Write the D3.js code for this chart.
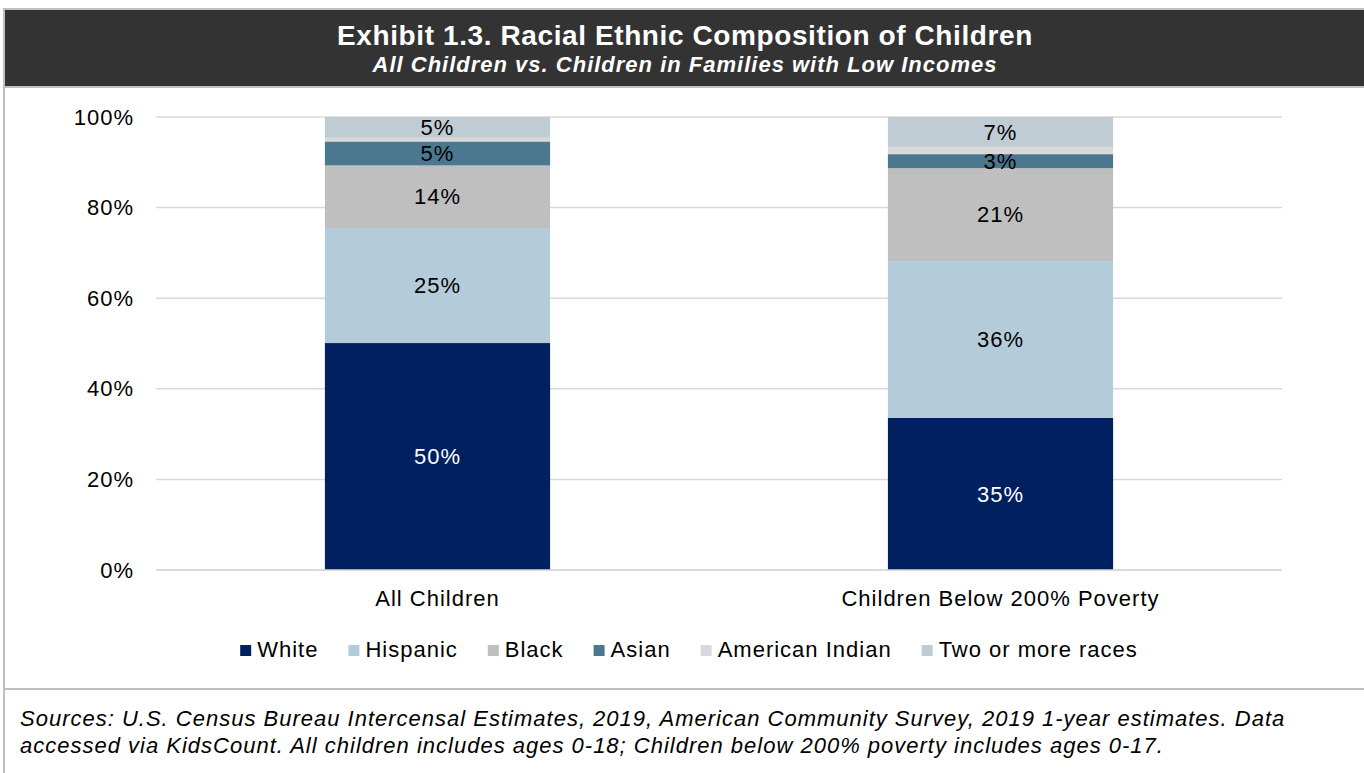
<!DOCTYPE html>
<html>
<head>
<meta charset="utf-8">
<script src="https://cdn.jsdelivr.net/npm/d3@7"></script>
<style>
  html, body { margin: 0; padding: 0; background: #fff; }
  svg { display: block; font-family: "Liberation Sans", Arial, sans-serif; }
  .t { font-size: 22px; letter-spacing: 1px; }
</style>
</head>
<body>
<svg id="chart" width="1364" height="773"></svg>
<script>
// ---- data ----
const categories = ["All Children", "Children Below 200% Poverty"];
const seriesNames = ["White", "Hispanic", "Black", "Asian", "American Indian", "Two or more races"];
const white    = [50.1, 33.6];
const hispanic = [25.4, 34.6];
const black    = [13.8, 20.5];
const asian    = [5.3, 3.1];
const amIndian = [0.8, 1.6];
const twoMore  = [4.6, 6.6];
const labelsAll  = ["50%", "25%", "14%", "5%", "", "5%"];
const labelsLow  = ["35%", "36%", "21%", "3%", "", "7%"];
const yTicks = [0, 20, 40, 60, 80, 100];
const colors = ["#002060", "#B4CCD9", "#BFBFBF", "#4B788F", "#D9D9D9", "#C0CCD4"];

const seriesValues = [white, hispanic, black, asian, amIndian, twoMore];
const segLabels = [labelsAll, labelsLow];

const svg = d3.select("#chart");

// frame
svg.append("rect").attr("x", 4).attr("y", 9).attr("width", 1362).attr("height", 766)
  .attr("fill", "none").attr("stroke", "#BFBFBF").attr("stroke-width", 2);
svg.append("rect").attr("x", 5).attr("y", 10).attr("width", 1359).attr("height", 76).attr("fill", "#333333");
svg.append("line").attr("x1", 4).attr("x2", 1364).attr("y1", 87).attr("y2", 87)
  .attr("stroke", "#BFBFBF").attr("stroke-width", 2);
svg.append("line").attr("x1", 4).attr("x2", 1364).attr("y1", 689).attr("y2", 689)
  .attr("stroke", "#BFBFBF").attr("stroke-width", 2);

svg.append("text").attr("x", 685).attr("y", 45).attr("text-anchor", "middle")
  .attr("fill", "#fff").attr("font-size", 28).attr("font-weight", "bold").attr("letter-spacing", 0.6)
  .text("Exhibit 1.3. Racial Ethnic Composition of Children");
svg.append("text").attr("x", 685).attr("y", 72).attr("text-anchor", "middle")
  .attr("fill", "#fff").attr("font-size", 22).attr("font-weight", "bold").attr("font-style", "italic").attr("letter-spacing", 1)
  .text("All Children vs. Children in Families with Low Incomes");

// scales
const x = d3.scaleBand().domain(categories).range([156, 1282]).paddingInner(0.6).paddingOuter(0.3);
const y = d3.scaleLinear().domain([0, 100]).range([570, 117]);

// gridlines
svg.append("g").selectAll("line").data(yTicks).join("line")
  .attr("x1", 156).attr("x2", 1282)
  .attr("y1", d => y(d)).attr("y2", d => y(d))
  .attr("stroke", "#D9D9D9").attr("stroke-width", 1.5);

// y axis labels
const yAxis = d3.axisLeft(y).tickValues(yTicks).tickFormat(d => d + "%").tickSize(0).tickPadding(22);
const yg = svg.append("g").attr("transform", "translate(156,0)").call(yAxis);
yg.select(".domain").remove();
yg.selectAll("text").attr("class", "t").attr("font-size", null).attr("fill", "#000")
  .attr("font-family", "Liberation Sans, Arial, sans-serif");

// stacked data
const table = categories.map((c, i) => {
  const o = { cat: c };
  seriesNames.forEach((s, j) => o[s] = seriesValues[j][i]);
  return o;
});
const stack = d3.stack().keys(seriesNames)(table);

const layers = svg.append("g").selectAll("g").data(stack).join("g")
  .attr("fill", (d, i) => colors[i]);
layers.selectAll("rect").data(d => d).join("rect")
  .attr("x", d => x(d.data.cat))
  .attr("width", x.bandwidth())
  .attr("y", d => y(d[1]))
  .attr("height", d => y(d[0]) - y(d[1]));

// segment labels
stack.forEach((layer, si) => {
  layer.forEach((d, ci) => {
    const t = segLabels[ci][si];
    if (!t) return;
    svg.append("text").attr("class", "t")
      .attr("x", x(d.data.cat) + x.bandwidth() / 2)
      .attr("y", (y(d[0]) + y(d[1])) / 2)
      .attr("dy", "0.35em")
      .attr("text-anchor", "middle")
      .attr("fill", si === 0 ? "#fff" : "#000")
      .text(t);
  });
});

// x axis
const xAxis = d3.axisBottom(x).tickSize(0).tickPadding(20);
const xg = svg.append("g").attr("transform", "translate(0,570)").call(xAxis);
xg.select(".domain").remove();
xg.selectAll("text").attr("class", "t").attr("fill", "#000")
  .attr("font-family", "Liberation Sans, Arial, sans-serif");
svg.append("line").attr("x1", 156).attr("x2", 1282).attr("y1", 570).attr("y2", 570)
  .attr("stroke", "#D9D9D9").attr("stroke-width", 1.5);

// legend
const lg = svg.append("g");
const items = lg.selectAll("g").data(seriesNames).join("g");
items.append("rect").attr("width", 11).attr("height", 11).attr("y", -5).attr("fill", (d, i) => colors[i]);
items.append("text").attr("class", "t").attr("x", 17).attr("y", 0).attr("dy", "0.32em").attr("fill", "#000").text(d => d);
const gap = 30;
let cx = 0;
const pos = [];
items.each(function(d) {
  const w = this.querySelector("text").getComputedTextLength();
  pos.push(cx);
  cx += 17 + w + gap;
});
const total = cx - gap;
const startX = 689 - total / 2;
items.attr("transform", (d, i) => `translate(${startX + pos[i]},${650})`);

// footer
svg.append("text").attr("class", "t").attr("x", 20).attr("y", 726).attr("font-style", "italic").attr("fill", "#000")
  .text("Sources: U.S. Census Bureau Intercensal Estimates, 2019, American Community Survey, 2019 1-year estimates. Data");
svg.append("text").attr("class", "t").attr("x", 20).attr("y", 753).attr("font-style", "italic").attr("fill", "#000")
  .text("accessed via KidsCount. All children includes ages 0-18; Children below 200% poverty includes ages 0-17.");
</script>
</body>
</html>
